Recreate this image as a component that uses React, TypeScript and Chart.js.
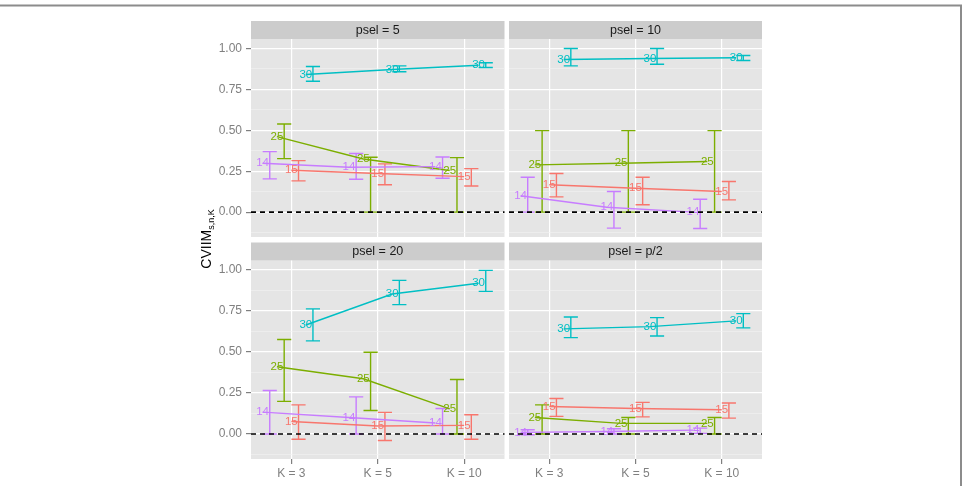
import React, { useEffect, useRef } from 'react';
import { Chart, registerables } from 'chart.js';

Chart.register(...registerables);

const W = 962;
const H = 486;
const FONT = '"Liberation Sans", Arial, Helvetica, sans-serif';

const kLabels = ['K = 3', 'K = 5', 'K = 10'];
const kPositions = [1, 2, 3];
const seriesNames = ['14', '15', '25', '30'];
const seriesColors = ['#C77CFF', '#F8766D', '#7CAE00', '#00BFC4'];
// horizontal dodge (in category units) of the line/label and of the error bar
const labelDodge = [-0.333, 0, -0.167, 0.167];
const barDodge = [-0.25, 0.083, -0.083, 0.25];
const panelTitles = ['psel = 5', 'psel = 10', 'psel = 20', 'psel = p/2'];
const yTickValues = [-0.125, 0, 0.125, 0.25, 0.375, 0.5, 0.625, 0.75, 0.875, 1];
const yMin = -0.152;
const yMax = 1.058;

// rows follow seriesNames (14, 15, 25, 30); columns follow kLabels
const psel5Mean = [[0.299, 0.274, 0.278], [0.256, 0.236, 0.217], [0.461, 0.325, 0.254], [0.841, 0.872, 0.898]];
const psel5Lower = [[0.203, 0.201, 0.207], [0.191, 0.167, 0.16], [0.327, 0.0, 0.0], [0.8, 0.858, 0.884]];
const psel5Upper = [[0.37, 0.358, 0.337], [0.315, 0.295, 0.266], [0.539, 0.335, 0.333], [0.89, 0.894, 0.913]];

const psel10Mean = [[0.1, 0.03, 0.0], [0.167, 0.146, 0.126], [0.289, 0.299, 0.309], [0.933, 0.939, 0.943]];
const psel10Lower = [[0.0, -0.098, -0.1], [0.093, 0.045, 0.075], [0.0, 0.0, 0.0], [0.894, 0.904, 0.927]];
const psel10Upper = [[0.213, 0.126, 0.079], [0.236, 0.213, 0.187], [0.498, 0.498, 0.498], [1.0, 1.0, 0.957]];

const psel20Mean = [[0.134, 0.101, 0.067], [0.077, 0.049, 0.053], [0.41, 0.337, 0.154], [0.665, 0.854, 0.919]];
const psel20Lower = [[0.0, 0.0, 0.0], [-0.032, -0.039, -0.032], [0.199, 0.144, 0.0], [0.568, 0.789, 0.87]];
const psel20Upper = [[0.266, 0.227, 0.156], [0.178, 0.132, 0.118], [0.576, 0.499, 0.333], [0.763, 0.937, 0.998]];

const pselHalfMean = [[0.01, 0.016, 0.024], [0.168, 0.156, 0.148], [0.101, 0.065, 0.065], [0.641, 0.655, 0.69]];
const pselHalfLower = [[-0.004, 0.0, 0.004], [0.108, 0.105, 0.097], [0.0, 0.0, 0.0], [0.588, 0.598, 0.647]];
const pselHalfUpper = [[0.026, 0.032, 0.036], [0.217, 0.193, 0.189], [0.178, 0.101, 0.101], [0.714, 0.71, 0.734]];

const panelMeans = [psel5Mean, psel10Mean, psel20Mean, pselHalfMean];
const panelLowers = [psel5Lower, psel10Lower, psel20Lower, pselHalfLower];
const panelUppers = [psel5Upper, psel10Upper, psel20Upper, pselHalfUpper];

// plot-area placement of each facet on the page
const panelBoxes = [
  { left: 251, right: 504.5, top: 39, bottom: 237, yAxis: true, xAxis: false },
  { left: 509, right: 762, top: 39, bottom: 237, yAxis: false, xAxis: false },
  { left: 251, right: 504.5, top: 260.5, bottom: 459, yAxis: true, xAxis: true },
  { left: 509, right: 762, top: 260.5, bottom: 459, yAxis: false, xAxis: true },
];

const Y_AXIS_W = 40;
const X_AXIS_H = 26;
const STRIP_H = 18;
const MARK_WIDTH = 1.4;

const isMajor = (v: number | undefined) =>
  v !== undefined && Math.abs(v * 4 - Math.round(v * 4)) < 1e-6;

function buildChart(canvas: HTMLCanvasElement, p: number): Chart {
  const box = panelBoxes[p];
  const mean = panelMeans[p];
  const lower = panelLowers[p];
  const upper = panelUppers[p];

  const facetPlugin = {
    id: 'facet' + p,
    beforeDraw(chart: any) {
      const { ctx, chartArea: a } = chart;
      ctx.save();
      ctx.fillStyle = '#E5E5E5';
      ctx.fillRect(a.left, a.top, a.right - a.left, a.bottom - a.top);
      ctx.fillStyle = '#CCCCCC';
      ctx.fillRect(a.left, a.top - STRIP_H, a.right - a.left, STRIP_H);
      ctx.fillStyle = '#1A1A1A';
      ctx.font = '12.5px ' + FONT;
      ctx.textAlign = 'center';
      ctx.textBaseline = 'middle';
      ctx.fillText(panelTitles[p], (a.left + a.right) / 2, a.top - STRIP_H / 2 + 0.5);
      ctx.restore();
    },
    beforeDatasetsDraw(chart: any) {
      const { ctx, chartArea: a, scales } = chart;
      const xs = scales.x;
      const ys = scales.y;
      ctx.save();
      ctx.beginPath();
      ctx.rect(a.left, a.top, a.right - a.left, a.bottom - a.top);
      ctx.clip();
      ctx.lineWidth = MARK_WIDTH;
      seriesNames.forEach((_, s) => {
        ctx.strokeStyle = seriesColors[s];
        kPositions.forEach((k, i) => {
          const xv = k + barDodge[s];
          const px = xs.getPixelForValue(xv);
          const half = xs.getPixelForValue(xv + 0.082) - px;
          const pLo = ys.getPixelForValue(lower[s][i]);
          const pHi = ys.getPixelForValue(upper[s][i]);
          ctx.beginPath();
          ctx.moveTo(px, pLo);
          ctx.lineTo(px, pHi);
          ctx.moveTo(px - half, pLo);
          ctx.lineTo(px + half, pLo);
          ctx.moveTo(px - half, pHi);
          ctx.lineTo(px + half, pHi);
          ctx.stroke();
        });
      });
      ctx.restore();
    },
    afterDatasetsDraw(chart: any) {
      const { ctx, chartArea: a, scales } = chart;
      ctx.save();
      ctx.font = '11.5px ' + FONT;
      ctx.textAlign = 'center';
      ctx.textBaseline = 'middle';
      seriesNames.forEach((name, s) => {
        const meta = chart.getDatasetMeta(s);
        ctx.fillStyle = seriesColors[s];
        meta.data.forEach((pt: any) => {
          ctx.fillText(name, pt.x, pt.y);
        });
      });
      // reference line at zero
      const y0 = scales.y.getPixelForValue(0);
      ctx.strokeStyle = '#000000';
      ctx.lineWidth = 1.6;
      ctx.setLineDash([5, 4]);
      ctx.beginPath();
      ctx.moveTo(a.left, y0);
      ctx.lineTo(a.right, y0);
      ctx.stroke();
      ctx.restore();
    },
    afterDraw(chart: any) {
      if (p !== 0) return;
      const { ctx } = chart;
      ctx.save();
      // figure frame
      ctx.strokeStyle = '#8C8C8C';
      ctx.lineWidth = 2;
      ctx.beginPath();
      ctx.moveTo(0, 5.5);
      ctx.lineTo(961, 5.5);
      ctx.lineTo(961, H);
      ctx.stroke();
      // y-axis title with subscript
      const mainFont = '14px ' + FONT;
      const subFont = '9px ' + FONT;
      ctx.font = mainFont;
      const wMain = ctx.measureText('CVIIM').width;
      ctx.font = subFont;
      const wSub = ctx.measureText('s,n,K').width;
      const total = wMain + wSub;
      ctx.translate(211, 239 + total / 2);
      ctx.rotate(-Math.PI / 2);
      ctx.fillStyle = '#000000';
      ctx.textAlign = 'left';
      ctx.textBaseline = 'alphabetic';
      ctx.font = mainFont;
      ctx.fillText('CVIIM', 0, 0);
      ctx.font = subFont;
      ctx.fillText('s,n,K', wMain, 3);
      ctx.restore();
    },
  };

  const datasets = seriesNames.map((name, s) => ({
    label: name,
    data: kPositions.map((k, i) => ({ x: k + labelDodge[s], y: mean[s][i] })),
    showLine: true,
    borderColor: seriesColors[s],
    backgroundColor: seriesColors[s],
    borderWidth: MARK_WIDTH,
    pointRadius: 0,
    pointHoverRadius: 0,
    fill: false,
    tension: 0,
  }));

  const yW = box.yAxis ? Y_AXIS_W : 0;
  const xH = box.xAxis ? X_AXIS_H : 0;

  return new Chart(canvas, {
    type: 'scatter',
    data: { datasets },
    plugins: [facetPlugin],
    options: {
      responsive: false,
      animation: false,
      events: [],
      layout: {
        padding: {
          left: box.left - yW,
          right: W - box.right,
          top: box.top,
          bottom: H - box.bottom - xH,
        },
      },
      plugins: {
        legend: { display: false },
        title: { display: false },
        tooltip: { enabled: false },
      },
      scales: {
        x: {
          type: 'linear',
          min: 0.533,
          max: 3.467,
          afterBuildTicks: (scale: any) => {
            scale.ticks = kPositions.map((v) => ({ value: v }));
          },
          afterFit: (scale: any) => {
            scale.height = xH;
          },
          border: { display: false },
          grid: {
            color: '#FFFFFF',
            lineWidth: 1.2,
            drawTicks: box.xAxis,
            tickLength: 5,
            tickColor: '#7F7F7F',
          },
          ticks: {
            display: box.xAxis,
            autoSkip: false,
            maxRotation: 0,
            padding: 2,
            color: '#808080',
            font: { family: FONT, size: 12 },
            callback: (v: any) => {
              const i = kPositions.indexOf(Number(v));
              return i >= 0 ? kLabels[i] : '';
            },
          },
        },
        y: {
          type: 'linear',
          min: yMin,
          max: yMax,
          afterBuildTicks: (scale: any) => {
            scale.ticks = yTickValues.map((v) => ({ value: v }));
          },
          afterFit: (scale: any) => {
            scale.width = yW;
          },
          border: { display: false },
          grid: {
            color: (c: any) => (isMajor(c.tick?.value) ? '#FFFFFF' : '#F2F2F2'),
            lineWidth: (c: any) => (isMajor(c.tick?.value) ? 1.2 : 0.6),
            drawTicks: box.yAxis,
            tickLength: 5,
            tickColor: (c: any) => (isMajor(c.tick?.value) ? '#7F7F7F' : 'rgba(0,0,0,0)'),
          },
          ticks: {
            display: box.yAxis,
            autoSkip: false,
            padding: 4,
            color: '#808080',
            font: { family: FONT, size: 12 },
            callback: (v: any) => (isMajor(Number(v)) ? Number(v).toFixed(2) : ''),
          },
        },
      },
    },
  } as any);
}

export default function App() {
  const refs = [
    useRef<HTMLCanvasElement>(null),
    useRef<HTMLCanvasElement>(null),
    useRef<HTMLCanvasElement>(null),
    useRef<HTMLCanvasElement>(null),
  ];

  useEffect(() => {
    const charts = refs.map((r, p) => buildChart(r.current as HTMLCanvasElement, p));
    return () => charts.forEach((c) => c.destroy());
  }, []);

  return (
    <div style={{ position: 'absolute', left: 0, top: 0, width: W, height: H, background: '#FFFFFF' }}>
      {refs.map((r, p) => (
        <canvas
          key={p}
          ref={r}
          width={W}
          height={H}
          style={{ position: 'absolute', left: 0, top: 0, width: W, height: H, display: 'block' }}
        />
      ))}
    </div>
  );
}
